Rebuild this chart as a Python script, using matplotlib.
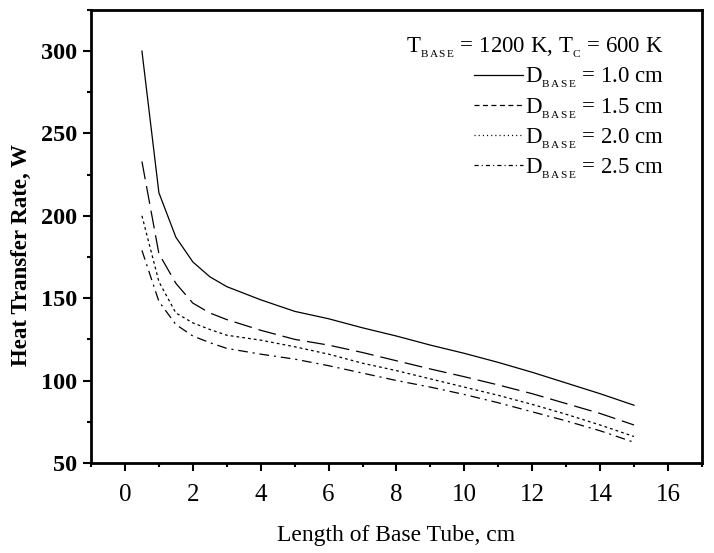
import matplotlib
matplotlib.use("Agg")
import matplotlib.pyplot as plt
from matplotlib.lines import Line2D
from matplotlib.ticker import MultipleLocator

plt.rcParams["font.family"] = "Liberation Serif"
plt.rcParams["mathtext.fontset"] = "custom"
plt.rcParams["mathtext.rm"] = "Liberation Serif"
plt.rcParams["mathtext.it"] = "Liberation Serif"
plt.rcParams["lines.scale_dashes"] = False

# length of base tube, cm
length = [0.5, 1, 1.5, 2, 2.5, 3, 4, 5, 6, 7, 8, 9, 10, 11, 12, 13, 14, 15]

# heat transfer rate, W, for each base diameter
q_d10 = [300, 214, 187, 172, 163, 157, 149, 142, 137.5, 132, 127, 121.5, 116.5, 111, 105, 98.5, 92, 85]
q_d15 = [233, 177, 159, 147, 141, 137, 130.5, 125, 121.5, 117, 112, 107, 102.3, 97.3, 92, 86, 80, 73]
q_d20 = [200, 160, 141, 135, 131, 127.5, 124.5, 120.5, 116, 110.5, 106, 101, 96, 91, 85.5, 79.5, 73, 66]
q_d25 = [179, 148, 134, 127, 123, 119.5, 116, 113, 109, 104.5, 100, 96, 91.5, 86.5, 81, 75.5, 69.5, 62.5]

sub = r"$_{{}_{\mathrm{B\,A\,S\,E}}}$"
labels = ["D" + sub + " = 1.0 cm", "D" + sub + " = 1.5 cm",
          "D" + sub + " = 2.0 cm", "D" + sub + " = 2.5 cm"]
title = "T" + sub + r" = 1200 K, T$_{{}_{\mathrm{C}}}$ = 600 K"

fig = plt.figure(figsize=(7.14, 5.53), dpi=100)
ax = fig.add_axes([0.1275, 0.163, 0.8555, 0.819])

lw = 0.9
ax.plot(length, q_d10, color="black", lw=lw, ls="-")
ax.plot(length, q_d15, color="black", lw=lw, ls=(0, (13, 5)))
ax.plot(length, q_d20, color="black", lw=lw, ls=(0, (2, 2.2)))
ax.plot(length, q_d25, color="black", lw=lw, ls=(0, (7, 3.5, 1.5, 3.5)))

# legend handles use the shorter patterns seen in the key
handles = [
    Line2D([], [], color="black", lw=lw, ls="-"),
    Line2D([], [], color="black", lw=lw, ls=(0, (3.6, 2.5))),
    Line2D([], [], color="black", lw=lw, ls=(0, (0.8, 2.2))),
    Line2D([], [], color="black", lw=lw, ls=(0, (3, 2.2, 0.8, 2.2))),
]
leg = ax.legend(handles, labels, loc="upper right", frameon=False, fontsize=16.5,
                handlelength=2.1, handletextpad=0.1, labelspacing=0.24,
                borderpad=0.65,
                title=title, title_fontsize=16.5, alignment="right",
                bbox_to_anchor=(0.962, 0.976), borderaxespad=0.0)

ax.set_xlim(-1, 17)
ax.set_ylim(50, 325)
ax.xaxis.set_major_locator(MultipleLocator(2))
ax.xaxis.set_minor_locator(MultipleLocator(1))
ax.yaxis.set_minor_locator(MultipleLocator(25))
ax.set_yticks([50, 100, 150, 200, 250, 300])

for s in ax.spines.values():
    s.set_linewidth(2)
ax.tick_params(which="major", direction="out", length=6, width=1.5)
ax.tick_params(which="minor", direction="out", length=3, width=1.5)
ax.tick_params(axis="x", labelsize=18, pad=9)
ax.tick_params(axis="y", labelsize=17.5, pad=4)
for t in ax.get_yticklabels():
    t.set_fontweight("bold")

ax.set_xlabel("Length of Base Tube, cm", fontsize=17, labelpad=14)
ax.set_ylabel("Heat Transfer Rate, W", fontsize=16.5, fontweight="bold")
ax.yaxis.set_label_coords(-0.097, 0.46)

fig.savefig("out.png", dpi=100)
